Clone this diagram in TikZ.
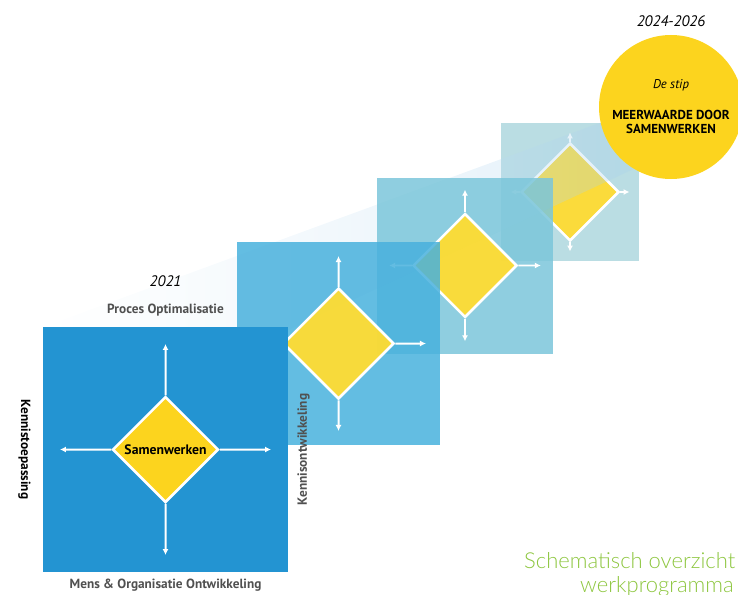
\documentclass[tikz,border=0pt]{standalone}
\usepackage{fontspec}
\setmainfont{PT Sans}
\IfFontExistsTF{Lato Light}{\newfontfamily\dunfont{Lato Light}}{\newfontfamily\dunfont{Lato}}
\usetikzlibrary{calc,positioning,shapes.geometric,arrows.meta}

\definecolor{vakblauw}{RGB}{35,148,210}
\definecolor{vaklicht}{RGB}{72,177,221}
\definecolor{vakzacht}{RGB}{123,198,218}
\definecolor{vakgrijs}{RGB}{174,215,222}
\definecolor{stipgeel}{RGB}{252,212,30}
\definecolor{ruitgeel}{RGB}{255,220,50}
\definecolor{kegel}{RGB}{160,205,235}
\definecolor{tekstgrijs}{RGB}{80,80,80}
\definecolor{titelgroen}{RGB}{141,198,63}

\tikzset{
	vak/.style={rectangle, inner sep=0pt, draw=none},
	ruit/.style={diamond, aspect=1, inner sep=0pt, draw=white, line width=2.5pt},
	pijl/.style={draw=white, line width=2pt, -{Latex[length=6pt, width=6pt]}},
	as/.style={inner sep=0pt, font=\bfseries\fontsize{13.3}{15}\selectfont},
	jaar/.style={inner sep=0pt, font=\itshape\fontsize{15.2}{17}\selectfont},
	stip/.style={circle, fill=stipgeel, minimum size=144, inner sep=0pt, align=center, font=\bfseries\fontsize{13}{14}\selectfont},
	titel/.style={inner sep=0pt, text=titelgroen, font=\dunfont\fontsize{22}{24}\selectfont}
}

\begin{document}
\begin{tikzpicture}[x=1pt, y=-1pt]
			%%%%% START %%%%%
			\useasboundingbox (0, 0) rectangle (738, 594);
			
			% stap 4
			\node[vak, minimum size=138, fill=vakgrijs, fill opacity=0.85] (v4) at (570, 192) {};
			\node[ruit, minimum size=98, fill=ruitgeel, fill opacity=0.95] (r4) at (v4) {};
			\draw[pijl, line width=1.6pt] (r4.north) -- ($(v4)!.86!(v4.north)$);
			\draw[pijl, line width=1.6pt] (r4.south) -- ($(v4)!.86!(v4.south)$);
			\draw[pijl, line width=1.6pt] (r4.west) -- ($(v4)!.86!(v4.west)$);
			\draw[pijl, line width=1.6pt] (r4.east) -- ($(v4)!.86!(v4.east)$);
			
			% kegel naar de stip
			\shade[left color=white, right color=kegel, fill opacity=0.3] (43, 327) -- (605, 121) -- (671, 107) -- (640, 166) -- (288, 330) -- cycle;
			
			% stap 3
			\node[vak, minimum size=176, fill=vakzacht, fill opacity=0.85] (v3) at (465, 265.5) {};
			\node[ruit, minimum size=104, fill=ruitgeel, fill opacity=0.95] (r3) at (v3) {};
			\draw[pijl, line width=1.8pt] (r3.north) -- ($(v3)!.86!(v3.north)$);
			\draw[pijl, line width=1.8pt] (r3.south) -- ($(v3)!.86!(v3.south)$);
			\draw[pijl, line width=1.8pt] (r3.west) -- ($(v3)!.86!(v3.west)$);
			\draw[pijl, line width=1.8pt] (r3.east) -- ($(v3)!.86!(v3.east)$);
			
			% stap 2
			\node[vak, minimum size=203, fill=vaklicht, fill opacity=0.85] (v2) at (338.5, 343.5) {};
			\node[ruit, minimum size=111, fill=ruitgeel, fill opacity=0.95] (r2) at (v2) {};
			\draw[pijl] (r2.north) -- ($(v2)!.86!(v2.north)$);
			\draw[pijl] (r2.south) -- ($(v2)!.86!(v2.south)$);
			\draw[pijl] (r2.west) -- ($(v2)!.86!(v2.west)$);
			\draw[pijl] (r2.east) -- ($(v2)!.86!(v2.east)$);
			
			% stap 1
			\node[vak, minimum size=245, fill=vakblauw] (v1) at (165.5, 449.5) {};
			\node[ruit, minimum size=106, fill=stipgeel, font=\bfseries\fontsize{13.7}{15}\selectfont] (r1) at (v1) {Samenwerken};
			\draw[pijl] (r1.north) -- ($(v1)!.86!(v1.north)$);
			\draw[pijl] (r1.south) -- ($(v1)!.86!(v1.south)$);
			\draw[pijl] (r1.west) -- ($(v1)!.86!(v1.west)$);
			\draw[pijl] (r1.east) -- ($(v1)!.86!(v1.east)$);
			
			% assen
			\node[as, text=tekstgrijs, above=10pt of v1] (po) {Proces Optimalisatie};
			\node[jaar, above=17pt of po] (j1) {2021};
			\node[as, text=tekstgrijs, below=7pt of v1] (mo) {Mens \& Organisatie Ontwikkeling};
			\node[as, rotate=-90, anchor=north] (kt) at ([xshift=-12pt]v1.west) {Kennistoepassing};
			\node[as, text=tekstgrijs, rotate=90, anchor=north] (ko) at ([xshift=9pt]v1.east) {Kennisontwikkeling};
			
			% de stip
			\node[stip] (ds) at (671, 107) {{\mdseries\itshape\fontsize{12.7}{14}\selectfont De stip}\\[17pt]MEERWAARDE DOOR\\SAMENWERKEN};
			\node[jaar, above=8pt of ds] (j2) {2024-2026};
			
			\node[titel, anchor=base west] (t1) at (524, 568) {Schematisch overzicht};
			\node[titel, anchor=base west] (t2) at (580, 592) {werkprogramma};
			
			%%%%% END %%%%%
\end{tikzpicture}
\end{document}
